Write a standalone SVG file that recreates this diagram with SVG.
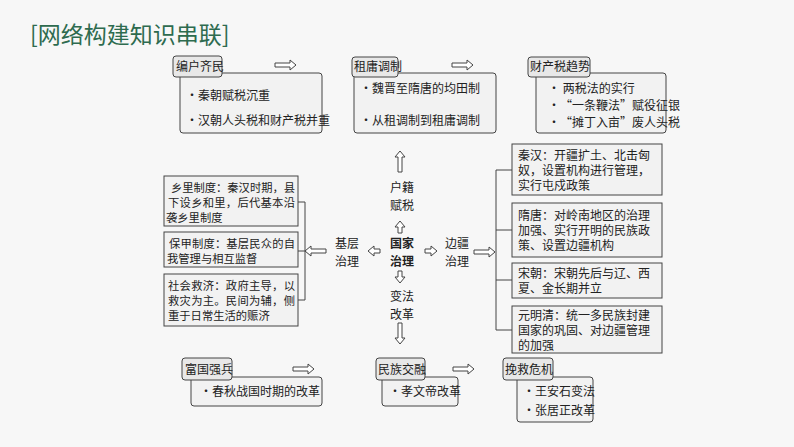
<svg xmlns="http://www.w3.org/2000/svg" width="794" height="447" viewBox="0 0 794 447">
<style>
text{font-family:"Noto Sans CJK SC","Liberation Serif",serif;font-size:12px;fill:#222}
.lab{fill:#e8e8e8;stroke:#444;stroke-width:1}
.box{fill:#f2f2f2;stroke:#444;stroke-width:1}
.ha{fill:#fff;stroke:#444;stroke-width:1}
.ln{fill:none;stroke:#444;stroke-width:1}
.t{font-size:23px;fill:#2e6b4f}
.b{font-weight:bold}
.s{font-size:11.3px}
</style>
<defs>
<path id="ar" d="M0,-2 H15 V-5 L21,0 L15,5 V2 H0 Z"/>
<path id="sa" d="M0,-2 H6 V-5 L12,0 L6,5 V2 H0 Z"/>
</defs>
<rect width="794" height="447" fill="#f7f7f7"/>
<text class="t" x="30" y="43">[网络构建知识串联]</text>
<g id="n1"><rect class="box" x="180" y="73" width="142" height="60" rx="3"/><rect class="lab" x="173" y="56" width="49" height="21" rx="3"/><text x="176" y="71">编户齐民</text><text x="186" y="100">•秦朝赋税沉重</text><text x="186" y="125">•汉朝人头税和财产税并重</text></g>
<g id="n2"><rect class="box" x="354" y="73" width="142" height="60" rx="3"/><rect class="lab" x="352" y="57" width="46" height="20" rx="3"/><text x="354" y="71">租庸调制</text><text x="360" y="93">•魏晋至隋唐的均田制</text><text x="360" y="125">•从租调制到租庸调制</text></g>
<g id="n3"><rect class="box" x="536" y="73" width="130" height="60" rx="3"/><rect class="lab" x="528" y="57" width="62" height="20" rx="3"/><text x="530" y="71">财产税趋势</text><text x="548" y="93">•  两税法的实行</text><text x="548" y="110">•“一条鞭法”赋役征银</text><text x="548" y="127">•“摊丁入亩”废人头税</text></g>
<g id="n4"><rect class="box" x="164" y="176" width="134" height="50"/><text class="s" x="171" y="192" textLength="124">乡里制度：秦汉时期，县</text><text class="s" x="168" y="207" textLength="127">下设乡和里，后代基本沿</text><text class="s" x="166" y="222">袭乡里制度</text></g>
<g id="n5"><rect class="box" x="164" y="232" width="134" height="35"/><text class="s" x="169" y="248" textLength="126">保甲制度：基层民众的自</text><text class="s" x="167" y="263">我管理与相互监督</text></g>
<g id="n6"><rect class="box" x="164" y="274" width="134" height="52"/><text class="s" x="168" y="290" textLength="127">社会救济：政府主导，以</text><text class="s" x="168" y="305" textLength="127">救灾为主。民间为辅，侧</text><text class="s" x="168" y="320">重于日常生活的赈济</text></g>
<g id="n7"><text x="335" y="248">基层</text><text x="335" y="266">治理</text></g>
<g id="n8"><text class="b" x="390" y="248">国家</text><text class="b" x="390" y="266">治理</text></g>
<g id="n9"><text x="445" y="248">边疆</text><text x="445" y="266">治理</text></g>
<g id="n10"><text x="390" y="192">户籍</text><text x="390" y="210">赋税</text></g>
<g id="n11"><text x="390" y="301">变法</text><text x="390" y="319">改革</text></g>
<g id="n12"><rect class="box" x="512" y="144" width="150" height="51"/><text x="518" y="160">秦汉：开疆扩土、北击匈</text><text x="518" y="175">奴，设置机构进行管理，</text><text x="518" y="190">实行屯戍政策</text></g>
<g id="n13"><rect class="box" x="512" y="203" width="150" height="54"/><text x="518" y="220">隋唐：对岭南地区的治理</text><text x="518" y="235">加强、实行开明的民族政</text><text x="518" y="250">策、设置边疆机构</text></g>
<g id="n14"><rect class="box" x="512" y="263" width="150" height="35"/><text x="518" y="278">宋朝：宋朝先后与辽、西</text><text x="518" y="293">夏、金长期并立</text></g>
<g id="n15"><rect class="box" x="512" y="306" width="150" height="47"/><text x="518" y="320">元明清：统一多民族封建</text><text x="518" y="335">国家的巩固、对边疆管理</text><text x="518" y="350">的加强</text></g>
<g id="n16"><rect class="box" x="191" y="377" width="131" height="29" rx="3"/><rect class="lab" x="182" y="358" width="50" height="22" rx="3"/><text x="185" y="374">富国强兵</text><text x="200" y="396">•春秋战国时期的改革</text></g>
<g id="n17"><rect class="box" x="382" y="377" width="76" height="29" rx="3"/><rect class="lab" x="376" y="358" width="49" height="22" rx="3"/><text x="378" y="374">民族交融</text><text x="389" y="396">•孝文帝改革</text></g>
<g id="n18"><rect class="box" x="517" y="377" width="76" height="45" rx="3"/><rect class="lab" x="503" y="358" width="50" height="22" rx="3"/><text x="505" y="374">挽救危机</text><text x="523" y="396">•王安石变法</text><text x="523" y="415">•张居正改革</text></g>
<g id="connectors">
<use href="#ar" class="ha" transform="translate(275,65)"/>
<use href="#ar" class="ha" transform="translate(452,65)"/>
<use href="#ar" class="ha" transform="translate(293,369)"/>
<use href="#ar" class="ha" transform="translate(453,369)"/>
<use href="#ar" class="ha" transform="translate(474,252)"/>
<use href="#ar" class="ha" transform="translate(326,251) rotate(180)"/>
<path class="ln" d="M298,202 H305 V300 H298 M298,251 H305"/>
<path class="ln" d="M512,170 H496 V330 H512 M496,230 H512 M496,280 H512"/>
<use href="#ar" class="ha" transform="translate(400,172) rotate(-90)"/>
<use href="#sa" class="ha" transform="translate(400,233) rotate(-90)"/>
<use href="#sa" class="ha" transform="translate(380,251) rotate(180)"/>
<use href="#sa" class="ha" transform="translate(425,251)"/>
<use href="#sa" class="ha" transform="translate(400,271) rotate(90)"/>
<use href="#ar" class="ha" transform="translate(400,323) rotate(90)"/>
</g>
</svg>
